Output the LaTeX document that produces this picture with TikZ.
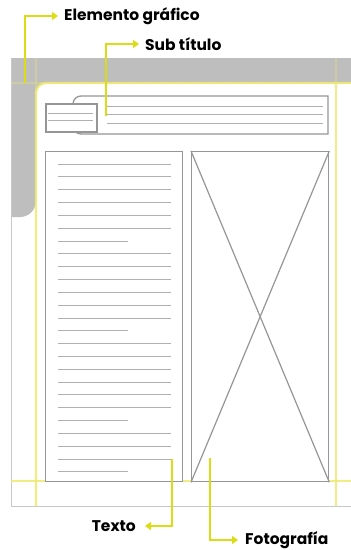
\documentclass[tikz,border=0pt]{standalone}
\usepackage{fontspec}
\setsansfont{Poppins}
\usetikzlibrary{arrows.meta}
\definecolor{grayE}{RGB}{190,190,190}
\definecolor{edgeG}{RGB}{200,200,200}
\definecolor{guideY}{RGB}{238,234,110}
\definecolor{arrowY}{RGB}{220,220,20}
\definecolor{lineG}{RGB}{176,176,176}
\definecolor{frameG}{RGB}{150,150,150}
\begin{document}
\begin{tikzpicture}[x=1pt,y=-1pt,
  guide/.style={draw=guideY, line width=2.3pt, opacity=0.85},
  pointer/.style={draw=arrowY, line width=1.6pt, -{Triangle[width=8pt,length=6pt]}},
  lbl/.style={font=\sffamily\bfseries\fontsize{15.5}{17}\selectfont, inner sep=0pt},
  txtline/.style={draw=lineG, line width=0.9pt},
  frame/.style={draw=frameG, line width=1.3pt, fill=white}]
\useasboundingbox (0,0) rectangle (351,550);
\fill[white] (0,0) rectangle (351,550);
% graphic element (gray bar and column)
\fill[grayE] (11,58) -- (351,58) -- (351,83) -- (46,83)
  arc[start angle=-90,end angle=-180,radius=10] -- (36,201)
  arc[start angle=0,end angle=90,radius=16] -- (11,217) -- cycle;
% page edge
\draw[edgeG, line width=1pt] (11,58) -- (11,506) -- (351,506);
% margin guides
\draw[guide, opacity=0.3] (36,58) -- (36,93);
\draw[guide, opacity=0.3] (336,58) -- (336,83);
\draw[guide, opacity=0.3] (11,83) -- (46,83);
\draw[guide] (351,83) -- (46,83) arc[start angle=-90,end angle=-180,radius=10] -- (36,506);
\draw[guide] (336,83) -- (336,506);
\draw[guide] (11,481) -- (351,481);
% subtitle box
\draw[frame] (328,96) -- (81,96) arc[start angle=-90,end angle=-180,radius=8]
  -- (73,126) arc[start angle=180,end angle=90,radius=8] -- (328,134) -- cycle;
\draw[txtline] (105,106) -- (323,106);
\draw[txtline] (105,114) -- (323,114);
\draw[txtline] (107,123) -- (323,123);
% small box
\node[frame, line width=1.5pt, minimum width=51pt, minimum height=28pt, inner sep=0pt, anchor=north west] (small) at (45,103) {};
\draw[txtline] (48,113) -- (93,113);
\draw[txtline] (48,120) -- (93,120);
% text box
\node[frame, minimum width=137pt, minimum height=330pt, inner sep=0pt, anchor=north west] (textbox) at (45,151) {};
\foreach \i in {0,...,24}{
  \pgfmathsetmacro{\yy}{164+12.83*\i}
  \pgfmathsetmacro{\xe}{(\i==6 || \i==13 || \i==20 || \i==24) ? 128 : 171}
  \draw[txtline] (58,\yy) -- (\xe,\yy);
}
% photo box
\node[frame, minimum width=137pt, minimum height=330pt, inner sep=0pt, anchor=north west] (photo) at (191,151) {};
\draw[draw=frameG, line width=1.2pt] (photo.north west) -- (photo.south east);
\draw[draw=frameG, line width=1.2pt] (photo.north east) -- (photo.south west);
% labels
\node[lbl, anchor=west] (lblEG) at (64,16) {Elemento gráfico};
\node[lbl, anchor=west] (lblST) at (145,44) {Sub título};
\node[lbl, anchor=east] (lblTX) at (136,526) {Texto};
\node[lbl, anchor=west] (lblPH) at (245,540) {Fotografía};
\coordinate (eg) at (25,83);
\coordinate (st) at (106,116);
\coordinate (tx) at (172,459);
\coordinate (ph) at (210,458);
\draw[pointer] (eg) |- ([xshift=-6pt]lblEG.west);
\draw[pointer] (st) |- ([xshift=-6pt]lblST.west);
\draw[pointer] (tx) |- ([xshift=9pt]lblTX.east);
\draw[pointer] (ph) |- ([xshift=-7pt]lblPH.west);
\end{tikzpicture}
\end{document}
